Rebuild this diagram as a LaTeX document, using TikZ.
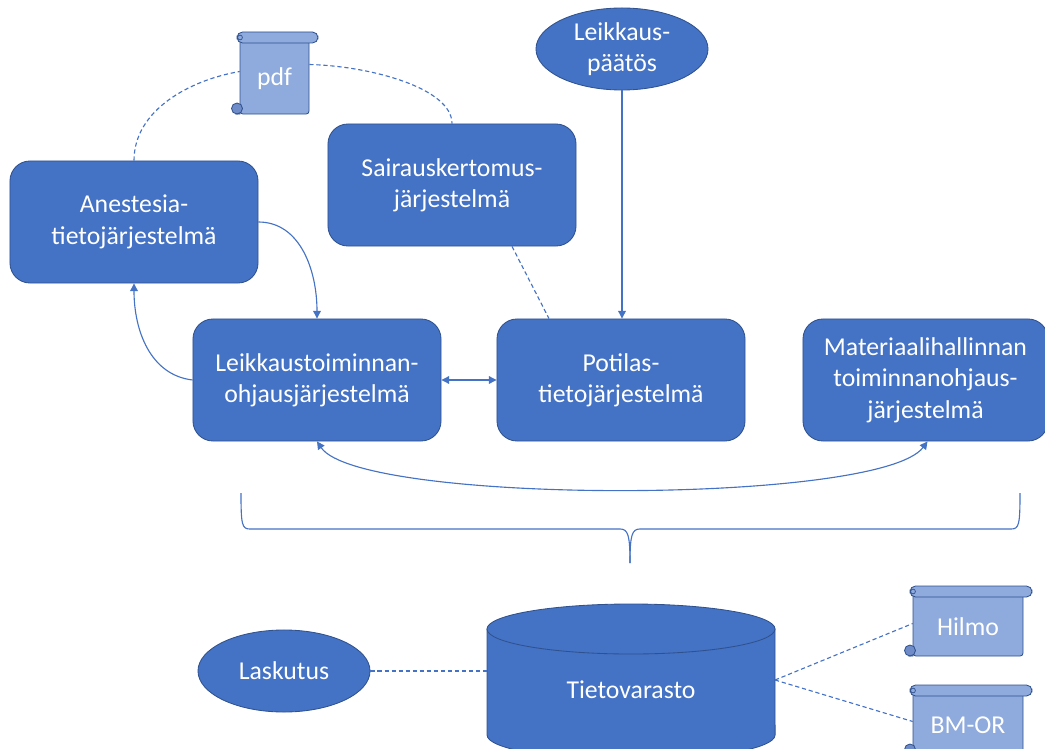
\documentclass[tikz,border=0pt]{standalone}
\usepackage{fontspec}
\setmainfont{Carlito}
\usetikzlibrary{shapes.geometric, positioning, arrows.meta, calc}

\definecolor{boxblue}{HTML}{4472C4}
\definecolor{boxedge}{HTML}{2F528F}
\definecolor{scrollblue}{HTML}{8FAADC}
\definecolor{curlblue}{HTML}{6F8CC8}
\definecolor{linkblue}{HTML}{4472C4}

\newcommand{\sysfont}{\fontsize{18.3pt}{22.3pt}\selectfont}

% scroll: name, left x, top y, body width, height, text
\newcommand{\docscroll}[6]{%
  \filldraw[scrollpart, rounded corners=2pt] (#2,#3+5) rectangle (#2+#4,#3+#5);
  \filldraw[scrollpart] (#2-4,#3+#5) -- (#2,#3+#5) -- (#2,#3+#5-6) -- cycle;
  \filldraw[scrollpart, rounded corners=0.1375cm] (#2-3,#3) rectangle (#2+#4+9,#3+11);
  \filldraw[scrollpart, fill=curlblue] (#2-3,#3+#5-5.5) circle (0.1375cm);
  \draw[boxedge, line width=0.5pt] (#2,#3+5.5) circle (0.06cm);
  \node[scrolltext, minimum width={#4*0.025cm}, minimum height={(#5-11)*0.025cm}]
    (#1) at (#2+#4/2,#3+11+#5/2-5.5) {#6};
}

\begin{document}
\begin{tikzpicture}[
    x=0.025cm, y=-0.025cm,
    system/.style={rectangle, draw=boxedge, fill=boxblue, line width=0.6pt, rounded corners=0.5cm,
      minimum width=6.2cm, minimum height=3.05cm, text=white, align=center, font=\sysfont},
    event/.style={ellipse, draw=boxedge, fill=boxblue, line width=0.6pt,
      minimum width=4.3cm, minimum height=2.05cm, text=white, font=\sysfont},
    scrollpart/.style={draw=boxedge, fill=scrollblue, line width=0.6pt},
    scrolltext/.style={inner sep=0pt, text=white, font=\sysfont},
    link/.style={draw=linkblue, line width=0.8pt},
    flow/.style={link, -{Triangle[length=5.5pt, width=5.5pt]}},
    twoway/.style={link, {Triangle[length=5.5pt, width=5.5pt]}-{Triangle[length=5.5pt, width=5.5pt]}},
    weak/.style={link, dash pattern=on 3pt off 2pt}
]
    \useasboundingbox (0,0) rectangle (1045,749);
    \clip (0,0) rectangle (1045,749);

    % Source documents and events
    \node[event, label={[text=white, font=\sysfont, align=center]center:Leikkaus-\\päätös}] (decision) at (622,49) {};
    \docscroll{pdf}{240}{32}{69}{82}{pdf}

    % Systems
    \node[system] (anest) at (134,222) {Anestesia-\\tietojärjestelmä};
    \node[system] (record) at (452,185) {Sairauskertomus-\\järjestelmä};
    \node[system] (orsys) at (317,380) {Leikkaustoiminnan-\\ohjausjärjestelmä};
    \node[system] (patient) at (621,380) {Potilas-\\tietojärjestelmä};
    \node[system, minimum width=6.125cm] (material) at (925.5,380) {Materiaalihallinnan\\toiminnanohjaus-\\järjestelmä};

    % Connections between systems
    \draw[weak] (anest.north) .. controls (134,110) and (190,80) .. ([yshift=0.175cm]pdf.west);
    \draw[weak] ([yshift=0.35cm]pdf.east) .. controls (370,66) and (452,88) .. (record.north);
    \draw[flow] (anest.east) .. controls (300,222) and (317,270) .. (orsys.north);
    \draw[flow] (orsys.west) .. controls (150,375) and (134,330) .. (anest.south);
    \draw[twoway] (orsys.east) -- (patient.west);
    \draw[twoway] (orsys.south) .. controls (360,505) and (880,505) .. ([xshift=0.05cm]material.south);
    \draw[flow] (decision.south) -- (decision.south |- patient.north);
    \draw[weak] ([xshift=1.5cm]record.south) -- ([xshift=-1.8cm]patient.north);

    % Brace towards the warehouse
    \draw[link] (241,493) .. controls (241,525) and (242,529) .. (250,529) -- (620,529)
      .. controls (628,529) and (630,535) .. (630,563);
    \draw[link] (630,563) .. controls (630,535) and (632,529) .. (640,529) -- (1011,529)
      .. controls (1019,529) and (1020,525) .. (1020,493);

    % Data warehouse
    \filldraw[draw=boxedge, fill=boxblue, line width=0.6pt] (487,629) -- (487,735)
      arc[start angle=180, end angle=360, x radius=3.6cm, y radius=0.625cm] -- (775,629) -- cycle;
    \filldraw[draw=boxedge, fill=boxblue, line width=0.6pt] (631,629) ellipse[x radius=3.6cm, y radius=0.625cm];
    \node[scrolltext] (store) at (631,690) {Tietovarasto};
    \coordinate (storeW) at (487,671);
    \coordinate (storeE) at (775,680);

    \node[event] (billing) at (284,671) {Laskutus};
    \docscroll{hilmo}{913}{586}{110}{70}{Hilmo}
    \docscroll{bmor}{913}{685}{110}{70}{BM-OR}

    \draw[weak] (billing.east) -- (storeW);
    \draw[weak] (storeE) -- ([yshift=0.075cm]hilmo.west);
    \draw[weak] (storeE) -- ([yshift=0.1cm]bmor.west);
\end{tikzpicture}
\end{document}
